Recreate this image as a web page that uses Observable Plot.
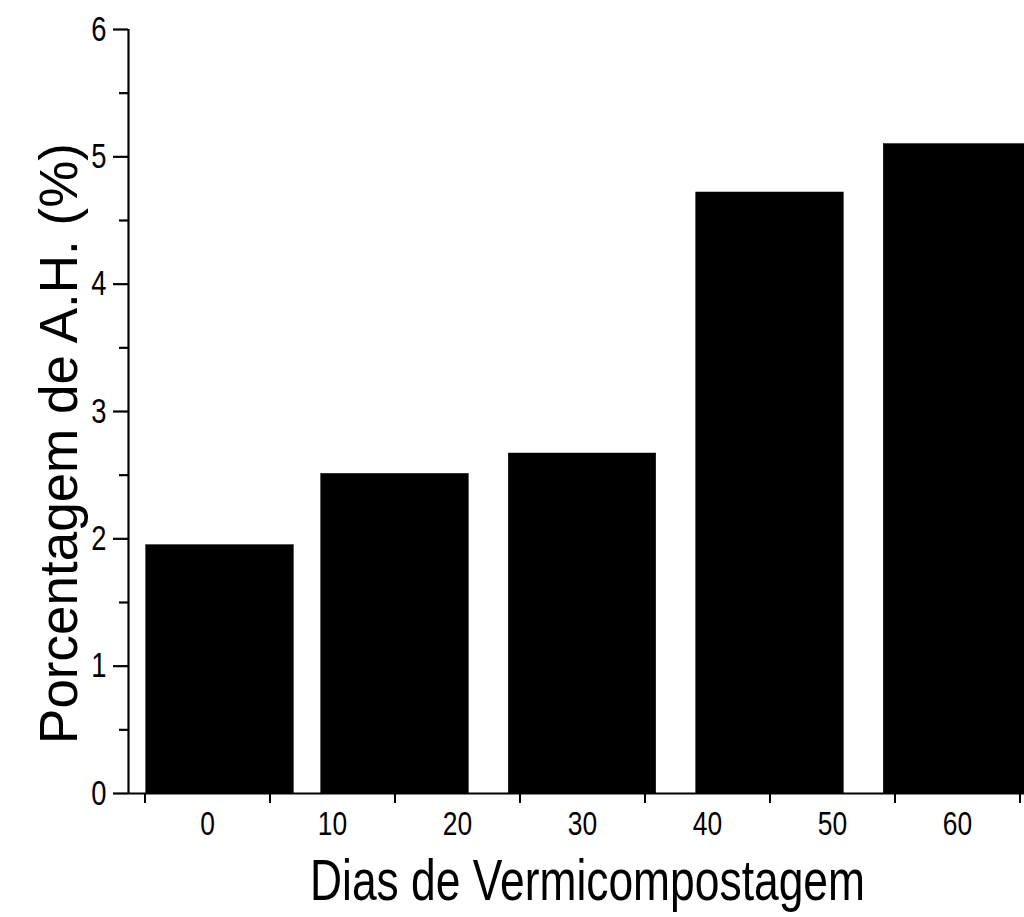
<!DOCTYPE html>
<html>
<head>
<meta charset="utf-8">
<script src="https://cdn.jsdelivr.net/npm/d3@7"></script>
<script src="https://cdn.jsdelivr.net/npm/@observablehq/plot@0.6"></script>
<style>
  html, body { margin: 0; padding: 0; background: #fff; }
  #chart svg { display: block; }
</style>
</head>
<body>
<div id="chart"></div>
<script>
// Data
const barCenters = [1, 15, 30, 45, 60];          // bar positions on the day axis
const barValues = [1.95, 2.51, 2.67, 4.72, 5.10];  // Porcentagem de A.H. (%)
const xTickLabels = [0, 10, 20, 30, 40, 50, 60];
const xTickMarks = [-5, 5, 15, 25, 35, 45, 55, 65];
const yTickLabels = [0, 1, 2, 3, 4, 5, 6];
const yMinorTicks = [0.5, 1.5, 2.5, 3.5, 4.5, 5.5];
const barHalfWidth = 5.9;
const xTitle = "Dias de Vermicompostagem";
const yTitle = "Porcentagem de A.H. (%)";

const bars = barCenters.map((c, i) => ({x1: c - barHalfWidth, x2: c + barHalfWidth, y: barValues[i]}));
const xDomain = [-6.32, 65.36];

const font = "'Liberation Sans', Arial, sans-serif";

const chart = Plot.plot({
  width: 1024,
  height: 917,
  marginLeft: 128,
  marginRight: 0,
  marginTop: 29,
  marginBottom: 124,
  style: {fontFamily: font, fontSize: "33px", color: "#000", background: "#fff"},
  x: {domain: xDomain, axis: null},
  y: {domain: [0, 6], axis: null},
  marks: [
    Plot.rectY(bars, {x1: "x1", x2: "x2", y: "y", fill: "#000", stroke: "#000", strokeWidth: 0.5, clip: true}),
    Plot.ruleY([0], {stroke: "#000", strokeWidth: 2}),
    Plot.ruleX([xDomain[0]], {y1: 0, y2: 6, stroke: "#000", strokeWidth: 2.2}),
    Plot.axisY({ticks: yTickLabels, tickSize: 15, tickPadding: 7, strokeWidth: 2.2, label: null, tickFormat: d => String(d)}),
    Plot.axisY({ticks: yMinorTicks, tickSize: 9, tickFormat: () => "", strokeWidth: 2.2, label: null}),
    Plot.axisX({ticks: xTickMarks, tickSize: 10, tickFormat: () => "", strokeWidth: 2, label: null}),
    Plot.axisX({ticks: xTickLabels, tickSize: 0, tickPadding: 18, label: null, tickFormat: d => String(d)}),
    Plot.text([xTitle], {frameAnchor: "bottom", dy: 106, dx: 11, lineAnchor: "bottom", textAnchor: "middle", fontSize: 57, fill: "#000"}),
    Plot.text([yTitle], {frameAnchor: "left", dx: -52, dy: 32, rotate: -90, textAnchor: "middle", lineAnchor: "bottom", fontSize: 53, fill: "#000"})
  ]
});
document.getElementById("chart").appendChild(chart);

// Tick-label sizes and the condensed face of the reference
const svg = d3.select(chart);
function condense(selector, size, factor) {
  svg.selectAll(selector).each(function () {
    this.setAttribute("font-size", size);
    this.style.fontSize = size + "px";
    const len = this.getComputedTextLength();
    if (len > 0) {
      this.setAttribute("textLength", (len * factor).toFixed(2));
      this.setAttribute("lengthAdjust", "spacingAndGlyphs");
    }
  });
}
condense('g[aria-label="y-axis tick label"] text', 35, 0.78);
condense('g[aria-label="x-axis tick label"] text', 33, 0.8);
const titles = svg.selectAll('g[aria-label="text"] text').nodes();
if (titles[0]) {
  titles[0].setAttribute("textLength", "555");
  titles[0].setAttribute("lengthAdjust", "spacingAndGlyphs");
}
</script>
</body>
</html>
